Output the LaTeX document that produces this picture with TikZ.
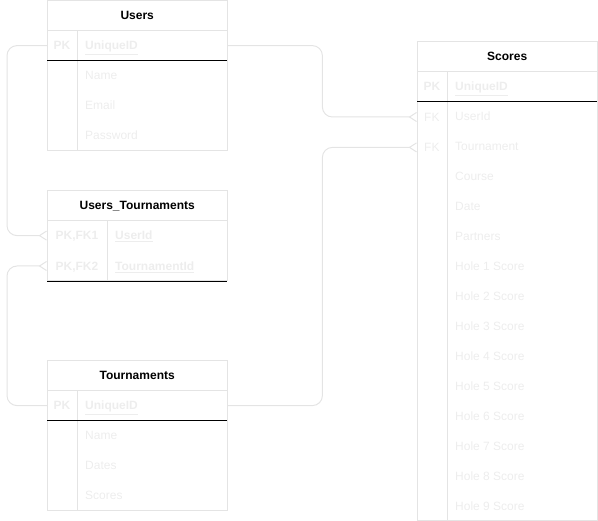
\documentclass[tikz,border=0pt]{standalone}
\usepackage{fontspec}
\setmainfont{Liberation Sans}
\usepackage{tikz}
\usetikzlibrary{arrows.meta,positioning,calc}
\definecolor{erline}{HTML}{E4E4E4}
\definecolor{ertxt}{HTML}{EDEDED}
\newcommand{\erfont}{\fontsize{12}{14}\selectfont}
\tikzset{
  tbl/.style={draw=erline,line width=1pt,minimum width=180pt,anchor=north west,inner sep=0pt},
  hdr/.style={minimum width=180pt,minimum height=30pt,anchor=north west,inner sep=0pt,font=\erfont\bfseries,text=black,text height=8.6pt,text depth=0pt},
  row/.style={minimum width=180pt,minimum height=30pt,anchor=north west,inner sep=0pt},
  key/.style={text=ertxt,font=\erfont\bfseries,inner sep=0pt,text height=8.6pt,text depth=0pt},
  fld/.style={text=ertxt,font=\erfont,anchor=west,inner sep=0pt,text height=8.6pt,text depth=0pt},
  pkfld/.style={fld,font=\erfont\bfseries},
  sep/.style={draw=erline,line width=1pt},
  keyline/.style={draw=black,line width=1pt},
  rel/.style={draw=erline,line width=1pt,rounded corners=10pt,-{Straight Barb[reversed,length=7pt,width=9pt]}},
}
\begin{document}
\begin{tikzpicture}[x=1pt,y=-1pt]
  \useasboundingbox (0,0) rectangle (598,521);

  % Users
  \node[tbl,minimum height=150pt] (usr) at (47,0) {};
  \node[hdr] (usr-h) at (usr.north west) {Users};
  \node[row] (usr-pk) at (usr-h.south west) {};
  \draw[sep] (usr-h.south west) -- (usr-h.south east);
  \draw[sep] ($(usr-h.south west)+(30,0)$) -- ($(usr.south west)+(30,0)$);
  \draw[keyline] (usr-pk.south west) -- (usr-pk.south east);
  \node[key] at ($(usr-pk.west)+(15,0)$) {PK};
  \node[pkfld] at ($(usr-pk.west)+(38,0)$) {\underline{UniqueID}};
  \foreach \f [count=\i] in {Name,Email,Password}
    \node[fld] at ($(usr-pk.west)+(38,30*\i)$) {\f};

  % Users_Tournaments
  \node[tbl,minimum height=90pt] (ut) at (47,190) {};
  \node[hdr] (ut-h) at (ut.north west) {Users\_Tournaments};
  \node[row] (ut-fk1) at (ut-h.south west) {};
  \node[row] (ut-fk2) at (ut-fk1.south west) {};
  \draw[sep] (ut-h.south west) -- (ut-h.south east);
  \draw[sep] ($(ut-h.south west)+(60,0)$) -- ($(ut.south west)+(60,0)$);
  \draw[keyline] (ut-fk2.south west) -- (ut-fk2.south east);
  \node[key] at ($(ut-fk1.west)+(30,0)$) {PK,FK1};
  \node[key] at ($(ut-fk2.west)+(30,0)$) {PK,FK2};
  \node[pkfld] at ($(ut-fk1.west)+(68,0)$) {\underline{UserId}};
  \node[pkfld] at ($(ut-fk2.west)+(68,0)$) {\underline{TournamentId}};

  % Tournaments
  \node[tbl,minimum height=150pt] (trn) at (47,360) {};
  \node[hdr] (trn-h) at (trn.north west) {Tournaments};
  \node[row] (trn-pk) at (trn-h.south west) {};
  \draw[sep] (trn-h.south west) -- (trn-h.south east);
  \draw[sep] ($(trn-h.south west)+(30,0)$) -- ($(trn.south west)+(30,0)$);
  \draw[keyline] (trn-pk.south west) -- (trn-pk.south east);
  \node[key] at ($(trn-pk.west)+(15,0)$) {PK};
  \node[pkfld] at ($(trn-pk.west)+(38,0)$) {\underline{UniqueID}};
  \foreach \f [count=\i] in {Name,Dates,Scores}
    \node[fld] at ($(trn-pk.west)+(38,30*\i)$) {\f};

  % Scores
  \node[tbl,minimum height=479.5pt] (scr) at (417,41) {};
  \node[hdr] (scr-h) at (scr.north west) {Scores};
  \node[row] (scr-pk) at (scr-h.south west) {};
  \node[row] (scr-uid) at (scr-pk.south west) {};
  \node[row] (scr-trn) at (scr-uid.south west) {};
  \draw[sep] (scr-h.south west) -- (scr-h.south east);
  \draw[sep] ($(scr-h.south west)+(30,0)$) -- ($(scr.south west)+(30,0)$);
  \draw[keyline] (scr-pk.south west) -- (scr-pk.south east);
  \node[key] at ($(scr-pk.west)+(15,0)$) {PK};
  \node[fld] at ($(scr-uid.west)+(7,0)$) {FK};
  \node[fld] at ($(scr-trn.west)+(7,0)$) {FK};
  \node[pkfld] at ($(scr-pk.west)+(38,0)$) {\underline{UniqueID}};
  \foreach \f [count=\i] in {UserId,Tournament,Course,Date,Partners,Hole 1 Score,Hole 2 Score,Hole 3 Score,Hole 4 Score,Hole 5 Score,Hole 6 Score,Hole 7 Score,Hole 8 Score,Hole 9 Score}
    \node[fld] at ($(scr-pk.west)+(38,30*\i)$) {\f};

  % relations
  \draw[rel] (usr-pk.west) -- ++(-40,0) |- (ut-fk1.west);
  \draw[rel] (trn-pk.west) -- ++(-40,0) |- (ut-fk2.west);
  \draw[rel] (usr-pk.east) -- ++(95,0) |- (scr-uid.west);
  \draw[rel] (trn-pk.east) -- ++(95,0) |- (scr-trn.west);
\end{tikzpicture}
\end{document}
